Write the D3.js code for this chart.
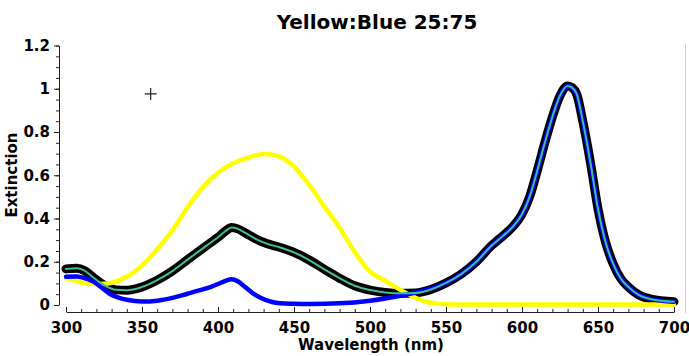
<!DOCTYPE html>
<html>
<head>
<meta charset="utf-8">
<script src="https://cdn.jsdelivr.net/npm/d3@7"></script>
<style>
  html, body { margin: 0; padding: 0; background: #fff; }
  svg { display: block; font-family: "DejaVu Sans", sans-serif; }
</style>
</head>
<body>
<svg id="chart" width="689" height="356"></svg>
<script>
// Extinction spectra: pure yellow dye, pure blue dye and the 25:75 mixture
const titleText = "Yellow:Blue 25:75";
const xLabel = "Wavelength (nm)";
const yLabel = "Extinction";

const yellowWl  = [300, 305, 310, 318, 325, 330, 340, 350, 360, 370, 380, 390, 400, 410, 420, 430, 440, 450, 460, 470, 480, 490, 500, 510, 520, 530, 540, 550, 560, 600, 650, 700];
const yellowExt = [0.123, 0.115, 0.104, 0.097, 0.098, 0.103, 0.131, 0.182, 0.258, 0.345, 0.452, 0.545, 0.612, 0.655, 0.682, 0.698, 0.688, 0.640, 0.555, 0.455, 0.357, 0.245, 0.154, 0.112, 0.070, 0.033, 0.010, 0.004, 0.002, 0.002, 0.002, 0.002];

const blueWl  = [300, 307, 312, 318, 324, 329, 335, 340, 350, 360, 370, 380, 390, 395, 400, 405, 409, 413, 418, 423, 428, 435, 441, 450, 460, 480, 500, 510, 520, 530, 540, 550, 560, 570, 580, 585, 590, 595, 600, 605, 610, 615, 620, 625, 630, 633, 636, 640, 645, 650, 655, 660, 665, 670, 677, 685, 700];
const blueExt = [0.131, 0.132, 0.125, 0.108, 0.078, 0.051, 0.033, 0.024, 0.016, 0.020, 0.033, 0.052, 0.072, 0.083, 0.097, 0.112, 0.119, 0.110, 0.082, 0.054, 0.034, 0.015, 0.008, 0.006, 0.005, 0.008, 0.020, 0.030, 0.043, 0.058, 0.076, 0.102, 0.143, 0.200, 0.275, 0.305, 0.335, 0.370, 0.420, 0.500, 0.620, 0.750, 0.870, 0.968, 1.013, 1.005, 0.975, 0.850, 0.660, 0.445, 0.290, 0.190, 0.122, 0.083, 0.046, 0.027, 0.015];

const mixWl  = [300, 307, 312, 318, 325, 333, 340, 350, 360, 370, 380, 390, 400, 405, 409, 413, 418, 425, 432, 440, 450, 460, 470, 480, 490, 500, 510, 520, 530, 540, 550, 560, 570, 580, 585, 590, 595, 600, 605, 610, 615, 620, 625, 630, 633, 636, 640, 645, 650, 655, 660, 665, 670, 677, 685, 700];
const mixExt = [0.167, 0.170, 0.160, 0.127, 0.092, 0.070, 0.068, 0.083, 0.115, 0.157, 0.210, 0.262, 0.313, 0.342, 0.358, 0.352, 0.333, 0.305, 0.284, 0.268, 0.243, 0.208, 0.165, 0.124, 0.089, 0.069, 0.058, 0.054, 0.056, 0.072, 0.102, 0.143, 0.200, 0.275, 0.305, 0.335, 0.370, 0.420, 0.500, 0.620, 0.750, 0.870, 0.968, 1.013, 1.005, 0.975, 0.850, 0.660, 0.445, 0.290, 0.190, 0.122, 0.083, 0.046, 0.027, 0.015];

const xTicks = [300, 350, 400, 450, 500, 550, 600, 650, 700];
const yTicks = [0, 0.2, 0.4, 0.6, 0.8, 1, 1.2];
const cursorPoint = [355.7, 0.976];

const svg = d3.select("#chart");

const x = d3.scaleLinear().domain([300, 700]).range([66, 674]);
const y = d3.scaleLinear().domain([0, 1.2]).range([305, 45.5]);

// faint right-hand frame edge
svg.append("line")
  .attr("x1", 685.5).attr("x2", 685.5).attr("y1", 44).attr("y2", 313)
  .attr("stroke", "#d0d0d0").attr("stroke-width", 1);

// y axis: minor ticks every 0.05, labelled majors every 0.2
const yMinor = d3.range(0, 1.2001, 0.05);
svg.append("g").attr("transform", "translate(59,0)")
  .call(d3.axisLeft(y).tickValues(yMinor).tickSize(3).tickSizeOuter(0).tickFormat(""))
  .call(g => g.select(".domain").remove());
const yAxis = svg.append("g").attr("transform", "translate(59,0)")
  .call(d3.axisLeft(y).tickValues(yTicks).tickSize(5).tickSizeOuter(0).tickPadding(4)
    .tickFormat(d => d3.format("~g")(d)));

// x axis below the plot, ticks pointing up
const xMinor = d3.range(300, 701, 10);
svg.append("g").attr("transform", "translate(0,312)")
  .call(d3.axisBottom(x).tickValues(xMinor).tickSize(-3).tickSizeOuter(0).tickFormat(""))
  .call(g => g.select(".domain").remove());
const xAxis = svg.append("g").attr("transform", "translate(0,312)")
  .call(d3.axisBottom(x).tickValues(xTicks).tickSize(-5).tickSizeOuter(0).tickPadding(10)
    .tickFormat(d3.format("d")));

[xAxis, yAxis].forEach(g => {
  g.selectAll("text")
    .attr("fill", "#000")
    .style("font-family", "'DejaVu Sans', sans-serif")
    .style("font-size", "15px")
    .style("font-weight", "bold");
});
svg.selectAll(".domain, .tick line").attr("stroke", "#222").attr("stroke-width", 1);

// spectra
const toPoints = (wl, ext) => wl.map((w, i) => [w, ext[i]]);
const line = d3.line().x(d => x(d[0])).y(d => y(d[1])).curve(d3.curveMonotoneX);

const mixPts = toPoints(mixWl, mixExt);
const curves = svg.append("g")
  .attr("fill", "none").attr("stroke-linecap", "round").attr("stroke-linejoin", "round");

curves.append("path").attr("d", line(mixPts))
  .attr("stroke", "#000").attr("stroke-width", 9);
curves.append("path").attr("d", line(toPoints(yellowWl, yellowExt)))
  .attr("stroke", "#ffff00").attr("stroke-width", 4.5);
curves.append("path").attr("d", line(toPoints(blueWl, blueExt)))
  .attr("stroke", "#0000ff").attr("stroke-width", 4.5);
curves.append("path").attr("d", line(mixPts))
  .attr("stroke", "#3fbf98").attr("stroke-width", 2);

// crosshair marker
const cx = x(cursorPoint[0]), cy = y(cursorPoint[1]);
svg.append("path")
  .attr("d", `M${cx - 6},${cy}H${cx + 6}M${cx},${cy - 6}V${cy + 6}`)
  .attr("stroke", "#222").attr("stroke-width", 1.2);

// titles
svg.append("text")
  .attr("x", 377).attr("y", 29).attr("text-anchor", "middle")
  .style("font-size", "20px").style("font-weight", "bold")
  .text(titleText);

svg.append("text")
  .attr("x", 371).attr("y", 350).attr("text-anchor", "middle")
  .style("font-size", "15px").style("font-weight", "bold")
  .text(xLabel);

svg.append("text")
  .attr("transform", "translate(17,175) rotate(-90)")
  .attr("text-anchor", "middle")
  .style("font-size", "15px").style("font-weight", "bold")
  .text(yLabel);
</script>
</body>
</html>
